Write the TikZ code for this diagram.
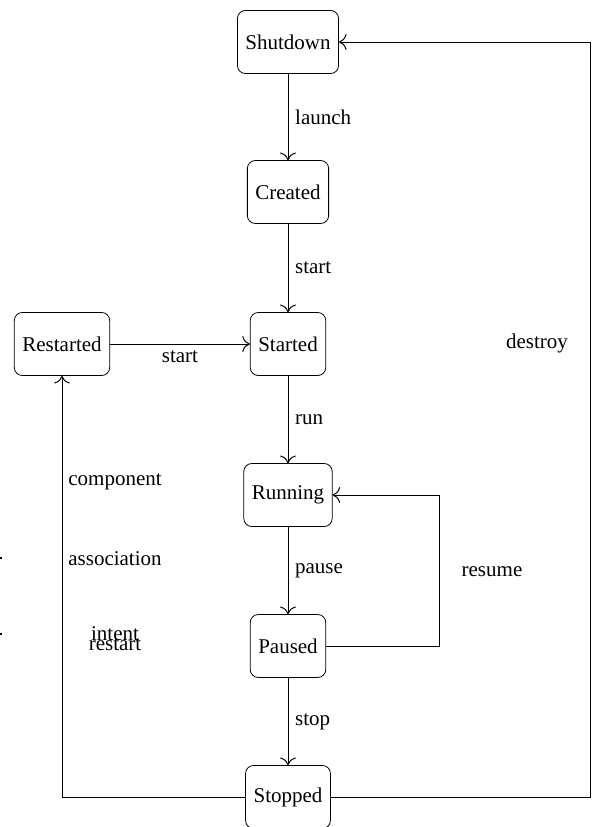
\documentclass[tikz,border=0pt]{standalone}
\usepackage{fontspec}
\setmainfont{Liberation Serif}
\usetikzlibrary{arrows.meta}
\begin{document}
\begin{tikzpicture}[x=0.5pt,y=-0.5pt,
  state/.style={draw, rounded corners=4pt, minimum height=31.5pt, inner xsep=4pt, font=\fontsize{10.5}{12.6}\selectfont},
  lbl/.style={font=\fontsize{10.5}{12.6}\selectfont},
  arr/.style={-{To[scale=1.4]}, line width=0.5pt}]
\useasboundingbox (0,0) rectangle (592,827);
\node[state] (shutdown) at (288,42) {Shutdown};
\node[state] (created) at (288,192) {Created};
\node[state] (started) at (288,344) {Started};
\node[state] (restarted) at (62,344) {Restarted};
\node[state] (running) at (288,495) {Running};
\node[state] (paused) at (288,646) {Paused};
\node[state] (stopped) at (288,797) {Stopped};

\draw[arr] (shutdown) -- node[right, lbl] (l1) {launch} (created);
\draw[arr] (created) -- node[right, lbl] (l2) {start} (started);
\draw[arr] (started) -- node[right, lbl] (l3) {run} (running);
\draw[arr] (running) -- node[right, lbl] (l4) {pause} (paused);
\draw[arr] (paused) -- node[right, lbl] (l5) {stop} (stopped);
\draw[arr] (restarted) -- node[below, lbl] (l6) {start} (started);

\coordinate (rc) at (439,495);
\draw[arr] (paused.east) -| (rc) -- (running.east);
\node[lbl] (lres) at (492,572) {resume};

\coordinate (dc1) at (590,797);
\coordinate (dc2) at (590,42);
\draw[arr] (stopped.east) -- (dc1) -- (dc2) -- (shutdown.east);
\node[lbl] (ldes) at (537,343) {destroy};

\draw[arr] (stopped.west) -| (restarted.south);
\node[lbl] (lc1) at (115,482) {component};
\node[lbl] (lc2) at (115,559) {association};
\node[lbl] (lc3) at (115,634) {intent};
\node[lbl] (lc4) at (115,645) {restart};

\fill (0,557) rectangle (2,559);
\fill (0,633) rectangle (2,635);
\end{tikzpicture}
\end{document}
